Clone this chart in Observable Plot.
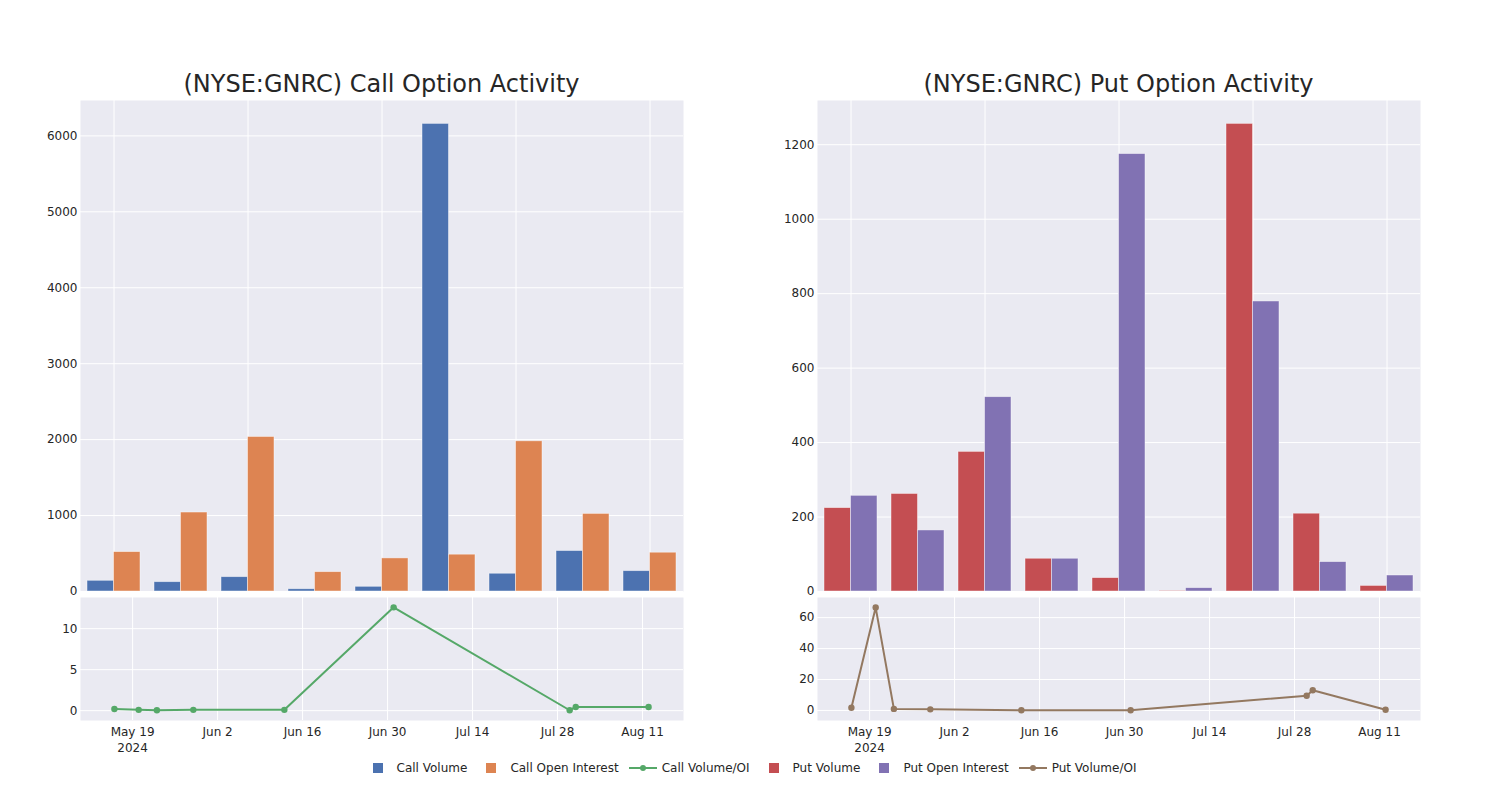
<!DOCTYPE html>
<html><head><meta charset="utf-8">
<script src="https://cdn.jsdelivr.net/npm/d3@7"></script>
<script src="https://cdn.jsdelivr.net/npm/@observablehq/plot@0.6"></script>
<style>
body{margin:0;background:#fff;font-family:"DejaVu Sans",sans-serif;}
#root{position:relative;width:1500px;height:800px;overflow:hidden;}
.panel{position:absolute;}
.title{position:absolute;font-size:24px;line-height:28px;color:#262626;text-align:center;white-space:nowrap;}
#legend{position:absolute;left:0;top:758px;width:1500px;height:20px;display:flex;justify-content:center;align-items:center;font-size:12px;color:#262626;}
.item{display:flex;align-items:center;margin:0 5px;}
.item span{margin-left:5px;}
</style></head><body><div id="root"></div>
<script>
// ---- data ----
const dates = ["2024-05-16","2024-05-20","2024-05-23","2024-05-29","2024-06-13","2024-07-01","2024-07-30","2024-07-31","2024-08-12"];
const callVolume = [141,123,189,30,62,6158,234,533,268];
const callOpenInterest = [519,1040,2035,255,436,485,1978,1022,511];
const callVolumeOI = [0.2,0.1,0.05,0.1,0.1,12.6,0.05,0.45,0.45];
const putVolume = [224,262,375,88,36,1,1256,209,15];
const putOpenInterest = [257,164,522,88,1175,9,779,79,43];
const putVolumeOI = [1.7,66.5,1.0,0.7,0.1,0.1,9.5,13.1,0.4];
const callBarTicks = [0,1000,2000,3000,4000,5000,6000];
const putBarTicks = [0,200,400,600,800,1000,1200];
const callRatioTicks = [0,5,10];
const putRatioTicks = [0,20,40,60];
const dateTicks = ["2024-05-19","2024-06-02","2024-06-16","2024-06-30","2024-07-14","2024-07-28","2024-08-11"];
const dateDomain = ["2024-05-10T10:00Z","2024-08-17T18:00Z"];
const titles = ["(NYSE:GNRC) Call Option Activity","(NYSE:GNRC) Put Option Activity"];
const seriesNames = ["Call Volume","Call Open Interest","Call Volume/OI","Put Volume","Put Open Interest","Put Volume/OI"];
const colors = {call:"#4C72B0", callOI:"#DD8452", callRatio:"#55A868", put:"#C44E52", putOI:"#8172B3", putRatio:"#937860"};
const ratioDomains = {call:[-1.2,13.8], put:[-6.5,73]};

const root = document.getElementById("root");
const BG = "#EAEAF2";
const style = {background:"transparent", fontFamily:"DejaVu Sans, sans-serif", fontSize:"12px", color:"#262626", overflow:"visible"};
const numFmt = d3.format("d");

function place(el, left, top){
  el.classList.add("panel");
  el.style.left = left + "px";
  el.style.top = top + "px";
  root.appendChild(el);
}

function barPanel(left, vol, oi, c1, c2, ticks){
  const rows = dates.map((d,i)=>({d, v: vol[i], o: oi[i]}));
  const yMax = d3.max([...vol, ...oi]) * 1.05;
  const p = Plot.plot({
    width: 750, height: 600,
    marginLeft: 80, marginRight: 67, marginTop: 100, marginBottom: 9,
    style,
    x: {type:"band", domain: dates, padding: 0, axis: null},
    y: {domain:[0, yMax], axis: null},
    marks: [
      Plot.frame({fill: BG, stroke: "none"}),
      Plot.gridY(ticks, {stroke:"white", strokeOpacity:1, strokeWidth:1}),
      Plot.gridX(dates.filter((d,i)=>i%2===0), {stroke:"white", strokeOpacity:1, strokeWidth:1}),
      Plot.barY(rows, {x:"d", y:"v", fill:c1, insetLeft:7, insetRight:33.5, stroke:"white", strokeOpacity:0.55, strokeWidth:0.8}),
      Plot.barY(rows, {x:"d", y:"o", fill:c2, insetLeft:33.5, insetRight:7, stroke:"white", strokeOpacity:0.55, strokeWidth:0.8}),
      Plot.axisY(ticks, {tickSize:0, tickPadding:3, label:null, fontSize:12, tickFormat:numFmt})
    ]
  });
  place(p, left, 0);
}

function linePanel(left, vals, color, ticks, yDomain){
  const rows = dates.map((d,i)=>({d: new Date(d), v: vals[i]}));
  const tickDates = dateTicks.map(d=>new Date(d));
  const fmt = d3.utcFormat("%b %-d");
  const p = Plot.plot({
    width: 750, height: 170,
    marginLeft: 80, marginRight: 67, marginTop: 7, marginBottom: 40,
    style,
    x: {type:"utc", domain: dateDomain.map(d=>new Date(d)), axis: null},
    y: {domain: yDomain, axis: null},
    marks: [
      Plot.frame({fill: BG, stroke: "none"}),
      Plot.gridY(ticks, {stroke:"white", strokeOpacity:1, strokeWidth:1}),
      Plot.gridX(tickDates, {stroke:"white", strokeOpacity:1, strokeWidth:1}),
      Plot.line(rows, {x:"d", y:"v", stroke:color, strokeWidth:2}),
      Plot.dot(rows, {x:"d", y:"v", fill:color, r:3.2}),
      Plot.axisY(ticks, {tickSize:0, tickPadding:3, label:null, fontSize:12, tickFormat:numFmt}),
      Plot.axisX(tickDates, {tickSize:0, tickPadding:4, label:null, fontSize:12, lineHeight:1.35,
        tickFormat:(d,i)=> i===0 ? fmt(d) + "\n" + d.getUTCFullYear() : fmt(d)})
    ]
  });
  place(p, left, 590);
}

barPanel(0, callVolume, callOpenInterest, colors.call, colors.callOI, callBarTicks);
barPanel(737, putVolume, putOpenInterest, colors.put, colors.putOI, putBarTicks);
linePanel(0, callVolumeOI, colors.callRatio, callRatioTicks, ratioDomains.call);
linePanel(737, putVolumeOI, colors.putRatio, putRatioTicks, ratioDomains.put);

// titles
[[80, titles[0]], [817, titles[1]]].forEach(([l, t])=>{
  const d = document.createElement("div");
  d.className = "title";
  d.style.left = l + "px"; d.style.top = "70px"; d.style.width = "603px";
  d.textContent = t;
  root.appendChild(d);
});

// legend
const legend = document.createElement("div");
legend.id = "legend";
const legendColors = [colors.call, colors.callOI, colors.callRatio, colors.put, colors.putOI, colors.putRatio];
const legendKinds = ["bar","bar","line","bar","bar","line"];
seriesNames.forEach((name,i)=>{
  const it = document.createElement("div");
  it.className = "item";
  const c = legendColors[i];
  const sw = legendKinds[i]==="bar"
    ? `<svg width="28" height="12"><rect x="9" y="1" width="10" height="10" fill="${c}"/></svg>`
    : `<svg width="28" height="12"><line x1="0" x2="28" y1="6" y2="6" stroke="${c}" stroke-width="2"/><circle cx="14" cy="6" r="3" fill="${c}"/></svg>`;
  it.innerHTML = sw + `<span>${name}</span>`;
  legend.appendChild(it);
});
root.appendChild(legend);
</script>
</body></html>
